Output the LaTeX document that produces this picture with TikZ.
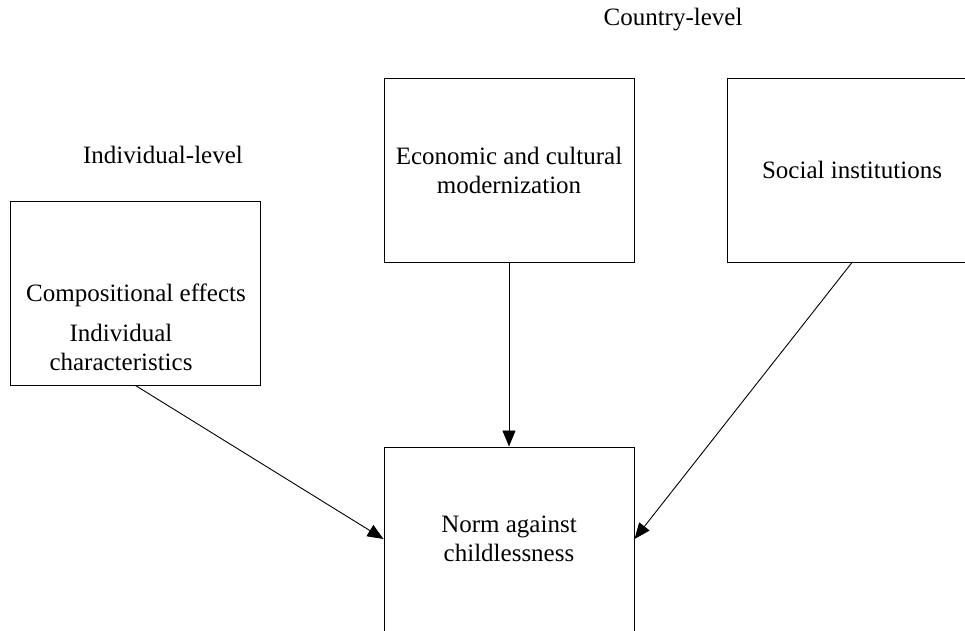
\documentclass[tikz,border=0pt]{standalone}
\usepackage{fontspec}
\setmainfont{Liberation Serif}
\usetikzlibrary{arrows.meta}
\begin{document}
\begin{tikzpicture}[x=1pt,y=-1pt,
  every node/.style={font=\fontsize{25}{29}\selectfont, inner sep=0pt},
  box/.style={draw, line width=1pt, minimum width=250pt, minimum height=184pt},
  link/.style={draw, line width=0.9pt, -{Triangle[length=16pt,width=13pt]}}]
  \useasboundingbox (0,0) rectangle (965,630);
  \clip (0,0) rectangle (965,630);
  \fill[white] (0,0) rectangle (965,630);

  % level headings
  \node (country) at (673,20) {Country-level};
  \node (indiv) at (163,155) {Individual-level};

  % boxes
  \node[box] (comp) at (135.5,293) {};
  \node (compt) at (136,295) {Compositional effects};
  \node[align=center] (chars) at (121,347) {Individual\\characteristics};

  \node[box, align=center] (econ) at (509,170) {Economic and cultural\\modernization};
  \node[box] (soc) at (852,170) {Social institutions};
  \node[box, align=center] (norm) at (509,539) {Norm against\\childlessness};

  % influences
  \draw[link] (comp.south) -- (norm.west);
  \draw[link] (econ.south) -- (norm.north);
  \draw[link] (soc.south) -- (norm.east);
\end{tikzpicture}
\end{document}
